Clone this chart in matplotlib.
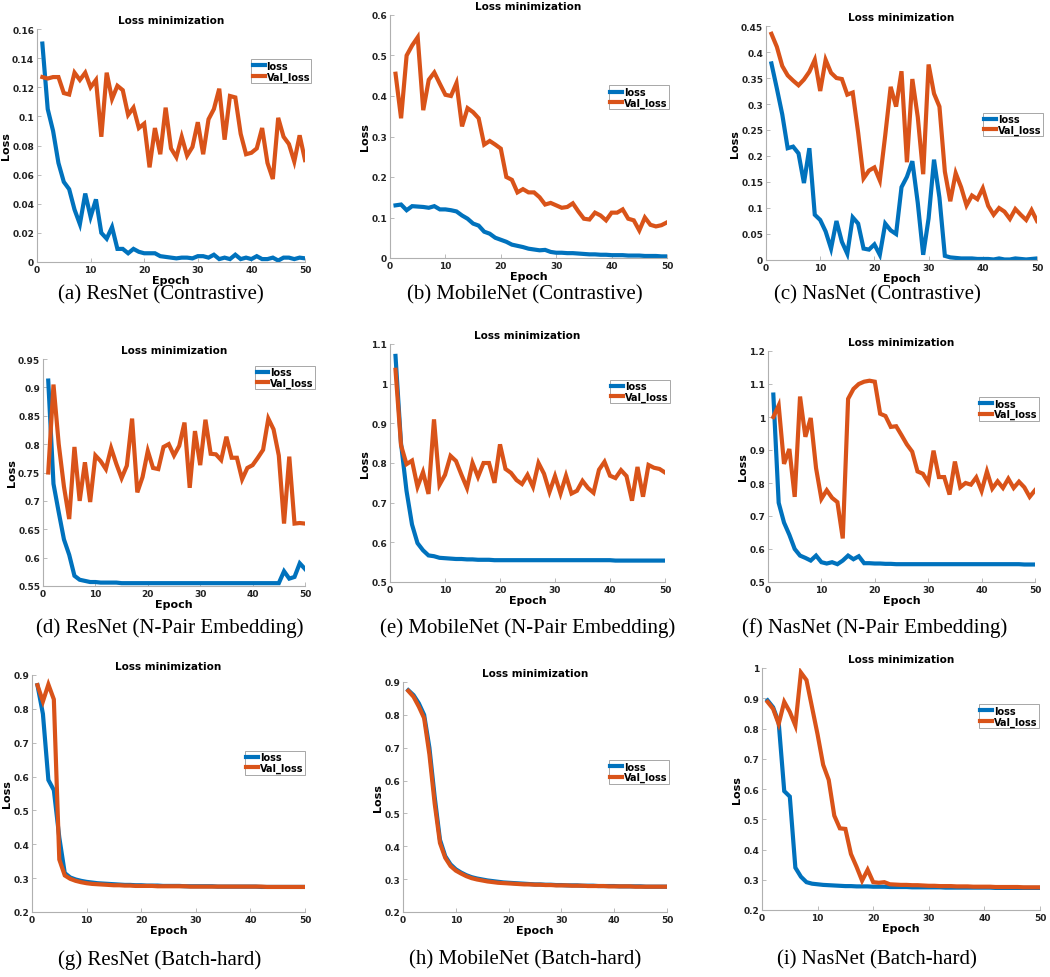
# Training / validation loss curves, 3 backbones x 3 losses

import matplotlib

matplotlib.use("Agg")
import matplotlib.pyplot as plt
from matplotlib.ticker import FuncFormatter, MultipleLocator

BLUE = "#0072BD"
ORANGE = "#D95319"
W, H = 1050, 978

epochs = list(range(1, 51))

# (a) ResNet, contrastive
resnet_con_loss = [0.15, 0.105, 0.09, 0.068, 0.055, 0.05, 0.036, 0.026, 0.047, 0.031,
                   0.043, 0.02, 0.016, 0.024, 0.009, 0.009, 0.006, 0.009, 0.007, 0.006,
                   0.006, 0.006, 0.004, 0.0035, 0.003, 0.0025, 0.003, 0.003, 0.0025, 0.004,
                   0.004, 0.003, 0.005, 0.002, 0.003, 0.002, 0.005, 0.002, 0.003, 0.002,
                   0.004, 0.002, 0.002, 0.003, 0.001, 0.003, 0.003, 0.002, 0.003, 0.0025]
resnet_con_val = [0.127, 0.126, 0.127, 0.127, 0.116, 0.115, 0.13, 0.125, 0.13, 0.12,
                  0.125, 0.086, 0.13, 0.112, 0.121, 0.118, 0.101, 0.106, 0.092, 0.095,
                  0.065, 0.092, 0.074, 0.106, 0.078, 0.072, 0.086, 0.073, 0.079, 0.096,
                  0.074, 0.098, 0.105, 0.119, 0.084, 0.114, 0.113, 0.088, 0.074, 0.075,
                  0.078, 0.092, 0.068, 0.057, 0.099, 0.086, 0.081, 0.069, 0.087, 0.07]

# (b) MobileNet, contrastive
mobile_con_loss = [0.13, 0.132, 0.118, 0.128, 0.127, 0.126, 0.124, 0.128, 0.12, 0.12,
                   0.118, 0.115, 0.105, 0.097, 0.085, 0.08, 0.065, 0.06, 0.05, 0.045,
                   0.04, 0.033, 0.03, 0.027, 0.023, 0.021, 0.019, 0.02, 0.015, 0.013,
                   0.013, 0.012, 0.012, 0.011, 0.01, 0.009, 0.009, 0.008, 0.008, 0.007,
                   0.007, 0.007, 0.006, 0.006, 0.006, 0.005, 0.005, 0.005, 0.004, 0.004]
mobile_con_val = [0.455, 0.345, 0.5, 0.525, 0.545, 0.365, 0.44, 0.458, 0.43, 0.403,
                  0.4, 0.432, 0.325, 0.37, 0.36, 0.345, 0.28, 0.289, 0.28, 0.27,
                  0.2, 0.193, 0.162, 0.17, 0.162, 0.162, 0.15, 0.132, 0.136, 0.13,
                  0.124, 0.126, 0.135, 0.115, 0.097, 0.095, 0.112, 0.105, 0.093, 0.112,
                  0.112, 0.12, 0.097, 0.093, 0.068, 0.1, 0.082, 0.078, 0.081, 0.088]

# (c) NasNet, contrastive
nas_con_loss = [0.378, 0.33, 0.28, 0.215, 0.218, 0.205, 0.148, 0.215, 0.087, 0.077,
                0.055, 0.022, 0.075, 0.035, 0.012, 0.082, 0.07, 0.022, 0.02, 0.03,
                0.01, 0.07, 0.057, 0.05, 0.14, 0.16, 0.19, 0.11, 0.01, 0.08,
                0.193, 0.12, 0.008, 0.005, 0.004, 0.003, 0.003, 0.003, 0.002, 0.002,
                0.002, 0.001, 0.003, 0.001, 0.001, 0.003, 0.002, 0.001, 0.002, 0.003]
nas_con_val = [0.435, 0.41, 0.373, 0.355, 0.345, 0.336, 0.347, 0.362, 0.385, 0.325,
               0.385, 0.36, 0.35, 0.348, 0.318, 0.322, 0.245, 0.157, 0.172, 0.178,
               0.153, 0.24, 0.333, 0.295, 0.363, 0.188, 0.348, 0.275, 0.165, 0.376,
               0.32, 0.295, 0.17, 0.113, 0.167, 0.14, 0.105, 0.124, 0.117, 0.138,
               0.104, 0.087, 0.1, 0.093, 0.079, 0.098, 0.087, 0.077, 0.096, 0.075]

# (d) ResNet, N-pair
resnet_np_loss = [0.912, 0.73, 0.68, 0.632, 0.605, 0.568, 0.561, 0.559, 0.557, 0.557,
                  0.556, 0.556, 0.556, 0.556, 0.555, 0.555, 0.555, 0.555, 0.555, 0.555,
                  0.555, 0.555, 0.555, 0.555, 0.555, 0.555, 0.555, 0.555, 0.555, 0.555,
                  0.555, 0.555, 0.555, 0.555, 0.555, 0.555, 0.555, 0.555, 0.555, 0.555,
                  0.555, 0.555, 0.555, 0.555, 0.555, 0.576, 0.563, 0.566, 0.59, 0.58]
resnet_np_val = [0.75, 0.905, 0.8, 0.725, 0.668, 0.795, 0.7, 0.768, 0.698, 0.78,
                 0.77, 0.756, 0.793, 0.765, 0.74, 0.762, 0.845, 0.715, 0.742, 0.788,
                 0.758, 0.756, 0.795, 0.8, 0.78, 0.797, 0.838, 0.723, 0.823, 0.763,
                 0.843, 0.783, 0.782, 0.772, 0.813, 0.776, 0.776, 0.738, 0.758, 0.763,
                 0.776, 0.79, 0.845, 0.826, 0.78, 0.66, 0.778, 0.66, 0.661, 0.66]

# (e) MobileNet, N-pair
mobile_np_loss = [1.07, 0.85, 0.73, 0.645, 0.598, 0.58, 0.567, 0.565, 0.561, 0.56,
                  0.559, 0.558, 0.558, 0.557, 0.557, 0.556, 0.556, 0.556, 0.555, 0.555,
                  0.555, 0.555, 0.555, 0.555, 0.555, 0.555, 0.555, 0.555, 0.555, 0.555,
                  0.555, 0.555, 0.555, 0.555, 0.555, 0.555, 0.555, 0.555, 0.555, 0.555,
                  0.554, 0.554, 0.554, 0.554, 0.554, 0.554, 0.554, 0.554, 0.554, 0.554]
mobile_np_val = [1.035, 0.845, 0.797, 0.806, 0.74, 0.777, 0.722, 0.91, 0.745, 0.77,
                 0.818, 0.805, 0.77, 0.737, 0.8, 0.765, 0.8, 0.8, 0.75, 0.847,
                 0.785, 0.775, 0.757, 0.747, 0.77, 0.74, 0.8, 0.773, 0.727, 0.767,
                 0.723, 0.768, 0.723, 0.73, 0.755, 0.737, 0.725, 0.783, 0.803, 0.768,
                 0.762, 0.782, 0.767, 0.705, 0.79, 0.715, 0.795, 0.788, 0.785, 0.776]

# (f) NasNet, N-pair
nas_np_loss = [1.068, 0.74, 0.68, 0.643, 0.6, 0.58, 0.573, 0.565, 0.58, 0.56,
               0.556, 0.56, 0.554, 0.565, 0.58, 0.569, 0.578, 0.557, 0.557, 0.556,
               0.556, 0.555, 0.555, 0.554, 0.554, 0.554, 0.554, 0.554, 0.554, 0.554,
               0.554, 0.554, 0.554, 0.554, 0.554, 0.554, 0.554, 0.554, 0.554, 0.554,
               0.554, 0.554, 0.554, 0.554, 0.554, 0.554, 0.554, 0.553, 0.553, 0.553]
nas_np_val = [1.0, 1.035, 0.858, 0.903, 0.758, 1.062, 0.94, 0.997, 0.845, 0.752,
              0.778, 0.755, 0.742, 0.632, 1.055, 1.085, 1.1, 1.107, 1.11, 1.107,
              1.01, 1.003, 0.97, 0.972, 0.945, 0.917, 0.895, 0.835, 0.828, 0.802,
              0.898, 0.818, 0.818, 0.765, 0.865, 0.787, 0.8, 0.795, 0.817, 0.776,
              0.835, 0.783, 0.805, 0.785, 0.813, 0.785, 0.804, 0.787, 0.758, 0.778]

# (g) ResNet, batch-hard
resnet_bh_loss = [0.87, 0.785, 0.59, 0.56, 0.42, 0.315, 0.302, 0.296, 0.292, 0.289,
                  0.287, 0.285, 0.284, 0.283, 0.282, 0.281, 0.28, 0.28, 0.279, 0.279,
                  0.278, 0.278, 0.278, 0.277, 0.277, 0.277, 0.277, 0.276, 0.276, 0.276,
                  0.276, 0.276, 0.276, 0.275, 0.275, 0.275, 0.275, 0.275, 0.275, 0.275,
                  0.275, 0.274, 0.274, 0.274, 0.274, 0.274, 0.274, 0.274, 0.274, 0.274]
resnet_bh_val = [0.87, 0.822, 0.872, 0.828, 0.355, 0.308, 0.298, 0.292, 0.288, 0.285,
                 0.283, 0.282, 0.281, 0.28, 0.279, 0.279, 0.278, 0.278, 0.277, 0.277,
                 0.277, 0.277, 0.276, 0.276, 0.276, 0.276, 0.276, 0.276, 0.275, 0.275,
                 0.275, 0.275, 0.275, 0.275, 0.275, 0.275, 0.275, 0.275, 0.275, 0.275,
                 0.275, 0.275, 0.274, 0.274, 0.274, 0.274, 0.274, 0.274, 0.274, 0.274]

# (h) MobileNet, batch-hard
mobile_bh_loss = [0.875, 0.86, 0.835, 0.8, 0.7, 0.55, 0.42, 0.37, 0.345, 0.33,
                  0.32, 0.312, 0.306, 0.302, 0.299, 0.296, 0.294, 0.292, 0.29, 0.289,
                  0.288, 0.287, 0.286, 0.285, 0.284, 0.284, 0.283, 0.283, 0.282, 0.282,
                  0.281, 0.281, 0.281, 0.280, 0.280, 0.280, 0.279, 0.279, 0.279, 0.279,
                  0.278, 0.278, 0.278, 0.278, 0.278, 0.277, 0.277, 0.277, 0.277, 0.277]
mobile_bh_val = [0.873, 0.855, 0.825, 0.79, 0.68, 0.53, 0.41, 0.365, 0.34, 0.326,
                 0.317, 0.309, 0.303, 0.299, 0.296, 0.293, 0.291, 0.289, 0.288, 0.287,
                 0.286, 0.285, 0.284, 0.284, 0.283, 0.283, 0.282, 0.282, 0.281, 0.281,
                 0.281, 0.280, 0.280, 0.280, 0.279, 0.279, 0.279, 0.279, 0.278, 0.278,
                 0.278, 0.278, 0.278, 0.277, 0.277, 0.277, 0.277, 0.277, 0.277, 0.277]

# (i) NasNet, batch-hard
nas_bh_loss = [0.893, 0.87, 0.82, 0.593, 0.575, 0.34, 0.31, 0.292, 0.287, 0.285,
               0.283, 0.282, 0.281, 0.28, 0.279, 0.279, 0.278, 0.278, 0.278, 0.277,
               0.277, 0.277, 0.276, 0.276, 0.276, 0.276, 0.275, 0.275, 0.275, 0.275,
               0.275, 0.275, 0.274, 0.274, 0.274, 0.274, 0.274, 0.274, 0.274, 0.274,
               0.274, 0.273, 0.273, 0.273, 0.273, 0.273, 0.273, 0.273, 0.273, 0.273]
nas_bh_val = [0.888, 0.865, 0.815, 0.888, 0.855, 0.81, 0.985, 0.96, 0.87, 0.78,
              0.68, 0.63, 0.512, 0.47, 0.468, 0.385, 0.343, 0.297, 0.333, 0.292,
              0.29, 0.292, 0.285, 0.284, 0.283, 0.283, 0.282, 0.282, 0.281, 0.28,
              0.28, 0.279, 0.279, 0.279, 0.278, 0.278, 0.278, 0.277, 0.277, 0.277,
              0.277, 0.276, 0.276, 0.276, 0.276, 0.276, 0.275, 0.275, 0.275, 0.275]

captions = ["(a) ResNet (Contrastive)", "(b) MobileNet (Contrastive)", "(c) NasNet (Contrastive)",
            "(d) ResNet (N-Pair Embedding)", "(e) MobileNet (N-Pair Embedding)", "(f) NasNet (N-Pair Embedding)",
            "(g) ResNet (Batch-hard)", "(h) MobileNet (Batch-hard)", "(i) NasNet (Batch-hard)"]

series = [(resnet_con_loss, resnet_con_val), (mobile_con_loss, mobile_con_val), (nas_con_loss, nas_con_val),
          (resnet_np_loss, resnet_np_val), (mobile_np_loss, mobile_np_val), (nas_np_loss, nas_np_val),
          (resnet_bh_loss, resnet_bh_val), (mobile_bh_loss, mobile_bh_val), (nas_bh_loss, nas_bh_val)]

# layout: axes box in pixels (left, top, right, bottom), y range + step, legend anchor, caption pos
panels = [
    dict(box=(37, 30, 305, 263), ylim=(0, 0.16), step=0.02, leg=(0.80, 0.87), cap=(161, 295)),
    dict(box=(390, 16, 667, 259), ylim=(0, 0.6), step=0.1, leg=(0.79, 0.71), cap=(525, 295)),
    dict(box=(766, 27, 1037, 261), ylim=(0, 0.45), step=0.05, leg=(0.80, 0.63), cap=(877, 295)),
    dict(box=(43, 360, 305, 587), ylim=(0.55, 0.95), step=0.05, leg=(0.81, 0.97), cap=(170, 628)),
    dict(box=(390, 345, 665, 583), ylim=(0.5, 1.1), step=0.1, leg=(0.80, 0.85), cap=(528, 628)),
    dict(box=(768, 352, 1035, 583), ylim=(0.5, 1.2), step=0.1, leg=(0.79, 0.80), cap=(875, 628)),
    dict(box=(32, 676, 305, 913), ylim=(0.2, 0.9), step=0.1, leg=(0.78, 0.68), cap=(160, 960)),
    dict(box=(403, 683, 667, 913), ylim=(0.2, 0.9), step=0.1, leg=(0.78, 0.66), cap=(525, 960)),
    dict(box=(762, 669, 1040, 911), ylim=(0.2, 1.0), step=0.1, leg=(0.78, 0.85), cap=(877, 960)),
]

fmt = FuncFormatter(lambda v, _: f"{v:g}")

fig = plt.figure(figsize=(W / 100, H / 100), dpi=100)

for p, (loss, val), cap in zip(panels, series, captions):
    l, t, r, b = p["box"]
    ax = fig.add_axes([l / W, 1 - b / H, (r - l) / W, (b - t) / H])
    ax.plot(epochs, loss, color=BLUE, lw=3, label="loss", solid_joinstyle="miter")
    ax.plot(epochs, val, color=ORANGE, lw=3, label="Val_loss", solid_joinstyle="miter")
    ax.set_xlim(0, 50)
    ax.set_ylim(*p["ylim"])
    ax.xaxis.set_major_locator(MultipleLocator(10))
    ax.yaxis.set_major_locator(MultipleLocator(p["step"]))
    ax.yaxis.set_major_formatter(fmt)
    for s in ("top", "right"):
        ax.spines[s].set_visible(False)
    for s in ("left", "bottom"):
        ax.spines[s].set_color("#b0b0b0")
        ax.spines[s].set_linewidth(0.8)
    ax.tick_params(direction="in", length=3, width=0.6, color="#b0b0b0",
                   labelsize=6.5, pad=2, labelcolor="#222222")
    for lab in ax.get_xticklabels() + ax.get_yticklabels():
        lab.set_fontweight("bold")
    ax.set_title("Loss minimization", fontsize=7.5, fontweight="bold", pad=4)
    ax.set_xlabel("Epoch", fontsize=8, fontweight="bold", labelpad=1)
    ax.set_ylabel("Loss", fontsize=8, fontweight="bold", labelpad=1)
    leg = ax.legend(loc="upper left", bbox_to_anchor=p["leg"],
                    prop={"weight": "bold", "size": 7}, handlelength=1.2, handletextpad=0.2,
                    borderpad=0.15, labelspacing=0.05, borderaxespad=0, fancybox=False,
                    edgecolor="#999999", framealpha=1)
    leg.get_frame().set_linewidth(0.6)
    fig.text(p["cap"][0] / W, 1 - p["cap"][1] / H, cap, ha="center", va="center",
             fontsize=15, family="Liberation Serif")

fig.savefig("out.png", dpi=100)
